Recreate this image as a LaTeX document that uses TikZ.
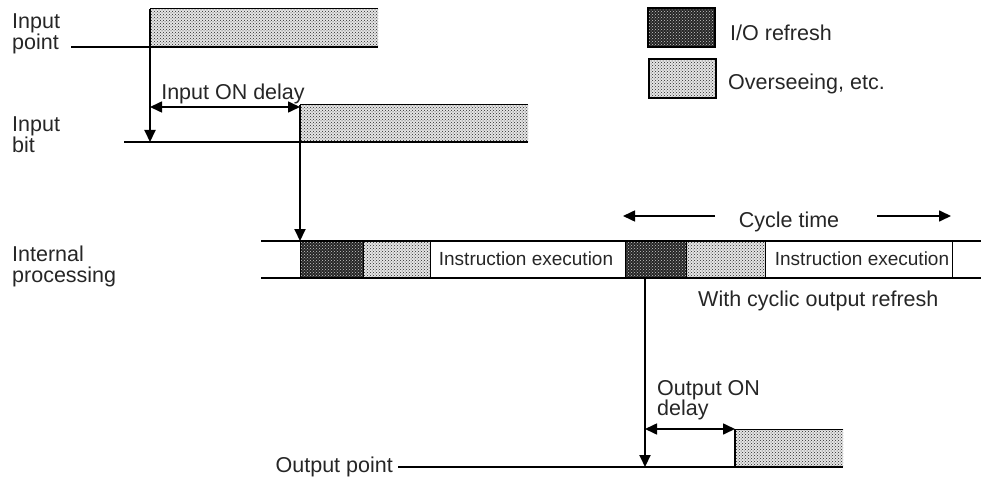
\documentclass[tikz,border=0pt]{standalone}
\usepackage{fontspec}
\setmainfont{Liberation Sans}
\usetikzlibrary{arrows.meta,patterns}
\begin{document}
\begin{tikzpicture}[x=1pt,y=-1pt,
 lbl/.style={inner sep=0pt, anchor=base west, font=\fontsize{21.5}{21.5}\selectfont, text=black!85},
 clbl/.style={lbl, anchor=base},
 ilbl/.style={inner sep=0pt, anchor=base, font=\fontsize{19}{19}\selectfont, text=black!85},
 sig/.style={line width=2pt},
 thinl/.style={line width=1pt},
 lite/.style={preaction={fill=black!10}, pattern=crosshatch dots, pattern color=black!85},
 darkp/.style={preaction={fill=black!85}, pattern=crosshatch dots, pattern color=white!80!black},
 tipa/.style={-{Triangle[length=12pt,width=11pt]}},
 dbl/.style={{Triangle[length=12pt,width=11pt]}-{Triangle[length=12pt,width=11pt]}, line width=1.6pt}
]
\useasboundingbox (0,0) rectangle (981,478);

% ---------- Input point ----------
\coordinate (ipS) at (71,47);
\coordinate (ipR) at (150,47);
\coordinate (ipT) at (150,9);
\coordinate (ipE) at (378,47);
\coordinate (ipTE) at (378,9);
\path[lite] (ipT) rectangle (ipE);
\draw[thinl] (ipT) -- (ipTE);
\draw[sig] (ipS) -- (ipE);
\draw[sig] (ipT) -- (ipR);
\node[lbl] (ipl1) at (12,28.5) {Input};
\node[lbl] (ipl2) at (12,49.5) {point};

% ---------- Input bit ----------
\coordinate (ibS) at (124,142);
\coordinate (ibA) at (150,142);
\coordinate (ibR) at (300,142);
\coordinate (ibT) at (300,105);
\coordinate (ibE) at (528,142);
\coordinate (ibTE) at (528,105);
\path[lite] (ibT) rectangle (ibE);
\draw[thinl] (ibT) -- (ibTE);
\draw[sig] (ibS) -- (ibE);
\draw[sig] (ibT) -- (ibR);
\node[lbl] (ibl1) at (12,132) {Input};
\node[lbl] (ibl2) at (12,153) {bit};
\draw[sig,tipa] (ipR) -- (ibA);

% Input ON delay
\coordinate (d1a) at (150,107);
\coordinate (d1b) at (300,107);
\draw[dbl] (d1a) -- (d1b);
\node[clbl] (d1l) at (233,99.5) {Input ON delay};

% ---------- Internal processing ----------
\coordinate (ptL) at (261,241);
\coordinate (ptR) at (981,241);
\coordinate (pbL) at (261,278);
\coordinate (pbR) at (981,278);
\coordinate (ipA) at (300,241);
\draw[sig,tipa] (ibR) -- (ipA);

\path[darkp] (300,241) rectangle (363,278);
\path[lite] (363,241) rectangle (430,278);
\path[darkp] (625,241) rectangle (686,278);
\path[lite] (686,241) rectangle (765,278);
\draw[thinl] (300,241) -- (300,278);
\draw[thinl] (363,241) -- (363,278);
\draw[thinl] (430,241) -- (430,278);
\draw[thinl] (625,241) -- (625,278);
\draw[thinl] (686,241) -- (686,278);
\draw[thinl] (765,241) -- (765,278);
\draw[thinl] (952,241) -- (952,278);
\draw[sig] (ptL) -- (ptR);
\draw[sig] (pbL) -- (pbR);
\node[ilbl] (ie1) at (526,265.7) {Instruction execution};
\node[ilbl] (ie2) at (862,265.7) {Instruction execution};
\node[lbl] (inl1) at (12,261.7) {Internal};
\node[lbl] (inl2) at (12,282.5) {processing};

% Cycle time
\coordinate (ctL1) at (715,216);
\coordinate (ctL2) at (623,216);
\coordinate (ctR1) at (877,216);
\coordinate (ctR2) at (951,216);
\draw[line width=1.6pt,tipa] (ctL1) -- (ctL2);
\draw[line width=1.6pt,tipa] (ctR1) -- (ctR2);
\node[clbl] (ctl) at (789,228) {Cycle time};
\node[lbl] (wcl) at (698,306) {With cyclic output refresh};

% ---------- Output point ----------
\coordinate (opD) at (645,278);
\coordinate (opA) at (645,467);
\coordinate (opS) at (398,467);
\coordinate (opR) at (735,467);
\coordinate (opT) at (735,429);
\coordinate (opE) at (843,467);
\coordinate (opTE) at (843,429);
\path[lite] (opT) rectangle (opE);
\draw[thinl] (opT) -- (opTE);
\draw[sig] (opS) -- (opE);
\draw[sig] (opT) -- (opR);
\draw[sig,tipa] (opD) -- (opA);
\node[lbl, anchor=base east] (opl) at (393,472) {Output point};

% Output ON delay
\coordinate (d2a) at (645,429);
\coordinate (d2b) at (735,429);
\draw[dbl] (d2a) -- (d2b);
\node[lbl] (d2l1) at (657,395) {Output ON};
\node[lbl] (d2l2) at (657,415) {delay};

% ---------- Legend ----------
\draw[line width=1.2pt, darkp] (648,8) rectangle (715,47);
\draw[line width=1.2pt, lite] (649,59) rectangle (716,98);
\node[lbl] (lg1) at (730,41) {I/O refresh};
\node[lbl] (lg2) at (728,90) {Overseeing, etc.};
\end{tikzpicture}
\end{document}
